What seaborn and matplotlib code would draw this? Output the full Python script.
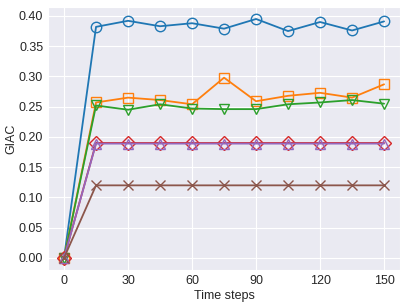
import matplotlib
matplotlib.use("Agg")
import matplotlib.pyplot as plt
import seaborn as sns
import pandas as pd

steps = [0, 15, 30, 45, 60, 75, 90, 105, 120, 135, 150]
s_circle = [0.0, 0.382, 0.392, 0.383, 0.388, 0.379, 0.395, 0.375, 0.390, 0.376, 0.391]
s_square = [0.0, 0.257, 0.265, 0.261, 0.254, 0.298, 0.259, 0.268, 0.273, 0.265, 0.287]
s_vtri = [0.0, 0.252, 0.245, 0.254, 0.247, 0.246, 0.246, 0.254, 0.257, 0.261, 0.255]
s_diamond = [0.0, 0.190, 0.190, 0.190, 0.190, 0.190, 0.190, 0.190, 0.190, 0.190, 0.190]
s_utri = [0.0, 0.189, 0.189, 0.189, 0.189, 0.189, 0.189, 0.189, 0.189, 0.189, 0.189]
s_x = [0.0, 0.12, 0.12, 0.12, 0.12, 0.12, 0.12, 0.12, 0.12, 0.12, 0.12]

sns.set_style("darkgrid")
plt.rcParams['font.family'] = ['Liberation Sans', 'DejaVu Sans']
plt.rcParams['font.size'] = 9

series = [s_circle, s_square, s_vtri, s_diamond, s_utri, s_x]
markers = ['o', 's', 'v', 'D', '^', 'x']
colors = sns.color_palette()[:6]

fig, ax = plt.subplots(figsize=(4.07, 3.06), dpi=100)
for vals, m, c in zip(series, markers, colors):
    df = pd.DataFrame({'t': steps, 'v': vals})
    sns.lineplot(data=df, x='t', y='v', ax=ax, color=c, marker=m, markersize=7.5,
                 markerfacecolor='none', markeredgecolor=c, markeredgewidth=1.0,
                 linewidth=1.3)

ax.set_xticks([0, 30, 60, 90, 120, 150])
ax.set_yticks([0.0, 0.05, 0.1, 0.15, 0.2, 0.25, 0.3, 0.35, 0.4])
ax.set_yticklabels(['%.2f' % v for v in ax.get_yticks()])
ax.tick_params(axis='both', length=0, pad=3.5)
ax.set_xlabel("Time steps", labelpad=2)
ax.set_ylabel("GIAC", labelpad=1)
fig.subplots_adjust(left=0.118, right=0.983, top=0.977, bottom=0.118)
fig.savefig("out.png")
